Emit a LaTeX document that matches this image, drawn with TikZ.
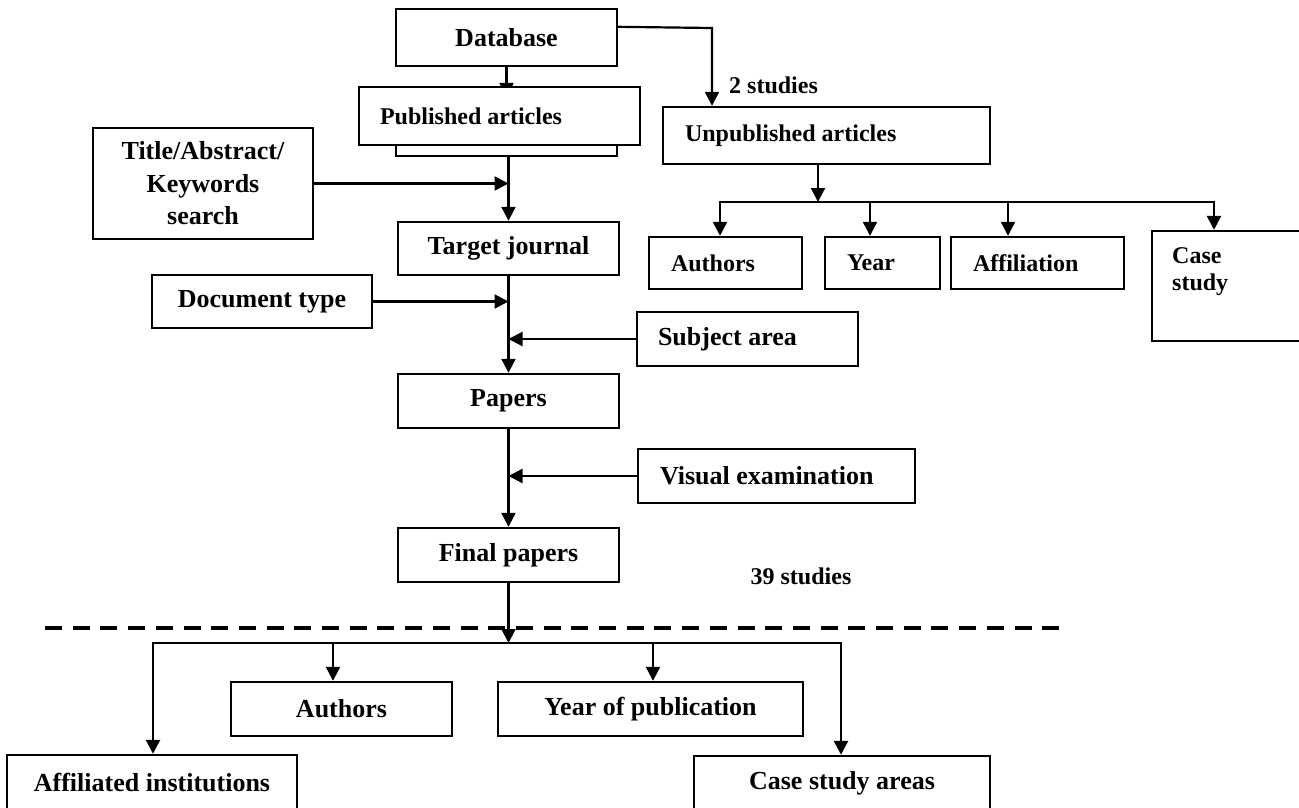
\documentclass[tikz,border=0pt]{standalone}
\usepackage{fontspec}
\setmainfont{Liberation Serif}
\usetikzlibrary{arrows.meta}
\pgfdeclarelayer{bg}
\pgfsetlayers{bg,main}
\begin{document}
\begin{tikzpicture}[x=1pt,y=-1pt,
  box/.style={draw, line width=2.4pt, fill=white, inner sep=0pt, align=center,
    font=\bfseries\fontsize{26}{32.5}\selectfont},
  sbox/.style={box, font=\bfseries\fontsize{24}{27}\selectfont},
  arr/.style={line width=2.2pt, line join=miter, -{Triangle[length=14pt,width=14pt]}},
  sepline/.style={line width=4pt, dash pattern=on 17pt off 10.7pt},
  lab/.style={font=\bfseries\fontsize{24}{27}\selectfont, inner sep=0pt, align=flush left}]
\useasboundingbox (0,0) rectangle (1299,807);
\clip (0,0) rectangle (1299,807);

% main column
\node[box, minimum width=221pt, minimum height=57pt] (db) at (506.5,37.5) {Database};
\node[box, minimum width=221pt, minimum height=62pt] (pubb) at (506.5,125) {};
\node[sbox, minimum height=58pt, inner xsep=21pt, text width=239pt, align=flush left] (pub) at (499.5,116) {Published articles};
\node[box, minimum width=220pt, minimum height=111pt] (title) at (203,183.5) {Title/Abstract/\\Keywords\\search};
\node[box, minimum width=221pt, minimum height=53pt] (tj) at (508.5,248.5) {Target journal};
\node[box, minimum width=220pt, minimum height=53pt] (doc) at (262,301.5) {Document type};
\node[box, minimum height=54pt, inner xsep=21pt, text width=179pt, align=flush left] (subj) at (747.5,339) {Subject area};
\node[box, minimum width=221pt, minimum height=54pt] (pap) at (508.5,401) {Papers};
\node[box, minimum height=54pt, inner xsep=22pt, text width=233pt, align=flush left] (vis) at (776.5,476) {Visual examination};
\node[box, minimum width=221pt, minimum height=54pt] (fin) at (508.5,555) {Final papers};
\node[lab] (s39) at (801,576) {39 studies};

% bottom
\node[box, minimum width=221pt, minimum height=54pt] (au2) at (341.5,709) {Authors};
\node[box, minimum width=305pt, minimum height=54pt] (yp) at (650.5,709) {Year of publication};
\node[box, minimum width=290pt, minimum height=54pt] (ai) at (152,782) {Affiliated institutions};
\node[box, minimum width=296pt, minimum height=54pt] (csa) at (842,783) {Case study areas};

% upper right
\node[sbox, minimum height=57pt, inner xsep=22pt, text width=283pt, align=flush left] (unp) at (826.5,135.5) {Unpublished articles};
\node[lab, anchor=west] (s2) at (729,85) {2 studies};
\node[sbox, minimum height=52pt, inner xsep=22pt, text width=109pt, align=flush left] (au1) at (725.5,263) {Authors};
\node[sbox, minimum height=52pt, inner xsep=22pt, text width=71pt, align=flush left] (yr1) at (882.5,263) {Year};
\node[sbox, minimum height=52pt, inner xsep=22pt, text width=129pt, align=flush left] (af1) at (1037.5,263) {Affiliation};
\node[box, minimum width=153pt, minimum height=110pt] (cs1) at (1228.5,286) {};
\node[lab, anchor=west] (cs1t) at (1172,272) {Case\\study};

% connectors
\begin{pgfonlayer}{bg}
\draw[arr, shorten >=-11pt] (db.south) -- (db.south |- pub.north);
\end{pgfonlayer}
\draw[arr] (tj.north |- pubb.south) -- (tj.north);
\draw[arr] (title.east) -- (title.east -| tj.north);
\draw[arr] (tj.south) -- (pap.north);
\draw[arr] (doc.east) -- (doc.east -| tj.south);
\draw[arr] (subj.west) -- (subj.west -| tj.south);
\draw[arr] (pap.south) -- (fin.north);
\draw[arr] (vis.west) -- (vis.west -| pap.south);

\coordinate (dl) at (45,628);
\coordinate (dr) at (1066,628);
\draw[sepline] (dl) -- (dr);

\coordinate (bl) at (153,643);
\coordinate (br) at (841,643);
\coordinate (ba) at (333,643);
\coordinate (by) at (653,643);
\draw[arr] (fin.south) -- (fin.south |- bl);
\draw[arr, line width=2.6pt] (fin.south |- bl) -- (bl) -- (bl |- ai.north);
\draw[arr, line width=2.6pt] (fin.south |- bl) -- (br) -- (br |- csa.north);
\draw[arr] (ba) -- (ba |- au2.north);
\draw[arr] (by) -- (by |- yp.north);

\coordinate (ut) at (712,28);
\draw[arr] ([yshift=-19pt]db.north east) -- (ut) -- (ut |- unp.north);
\coordinate (uj) at (818,202);
\coordinate (ul) at (720,202);
\coordinate (ur) at (1214,202);
\coordinate (uy) at (870,202);
\coordinate (ua) at (1008,202);
\draw[arr] (uj |- unp.south) -- (uj);
\draw[arr, line width=2.6pt] (uj) -- (ul) -- (ul |- au1.north);
\draw[arr, line width=2.6pt] (uj) -- (ur) -- (ur |- cs1.north);
\draw[arr] (uy) -- (uy |- yr1.north);
\draw[arr] (ua) -- (ua |- af1.north);
\end{tikzpicture}
\end{document}
